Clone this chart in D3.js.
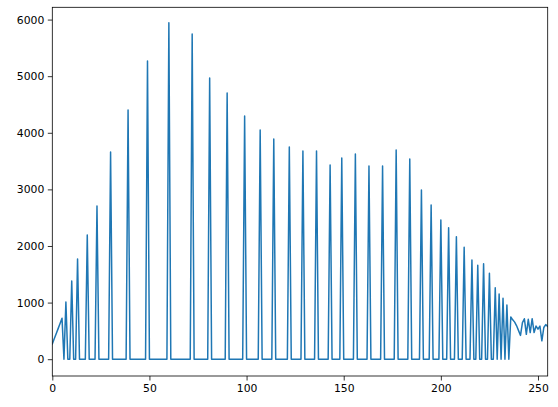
<!DOCTYPE html>
<html>
<head>
<meta charset="utf-8">
<script src="https://cdn.jsdelivr.net/npm/d3@7"></script>
<style>
  html, body { margin: 0; padding: 0; background: #fff; }
  svg { display: block; }
  .tick text { font-family: "DejaVu Sans", sans-serif; font-size: 10.8px; fill: #000; }
</style>
</head>
<body>
<svg id="chart" width="558" height="407"></svg>
<script>
// ---- data ----
// spike peaks: index -> count (all other indices in the spike region are 0)
const spikeIndex = [7, 10, 13, 18, 23, 30, 39, 49, 60, 72, 81, 90, 99, 107, 114, 122, 129, 136, 143, 149, 156, 163, 170, 177, 184, 190, 195, 200, 204, 208, 212, 216, 219, 222, 225, 228, 230, 232, 234];
const spikeValue = [1010, 1382, 1770, 2194, 2707, 3661, 4403, 5268, 5945, 5746, 4968, 4703, 4297, 4049, 3890, 3749, 3678, 3678, 3431, 3555, 3625, 3413, 3413, 3696, 3537, 2989, 2724, 2459, 2323, 2164, 1977, 1753, 1659, 1687, 1518, 1263, 1152, 1076, 958];
// start ramp (indices 0..5)
const headValues = [270, 360, 450, 540, 630, 725];
// noisy tail (indices 236..255)
const tailValues = [745, 695, 655, 590, 505, 420, 645, 715, 440, 705, 470, 715, 470, 585, 530, 585, 325, 560, 610, 580];
const xTicks = [0, 50, 100, 150, 200, 250];
const yTicks = [0, 1000, 2000, 3000, 4000, 5000, 6000];

// build full 256-length series
const series = new Array(256).fill(0);
headValues.forEach((v, i) => { series[i] = v; });
spikeIndex.forEach((idx, i) => { series[idx] = spikeValue[i]; });
tailValues.forEach((v, i) => { series[236 + i] = v; });
const data = series.map((v, i) => ({ x: i, y: v }));

// ---- layout ----
const mLeft = 52.3, mRight = 547.7, mTop = 7.3, mBottom = 376;
const svg = d3.select("#chart");

const x = d3.scaleLinear().domain([0, 255]).range([mLeft, mRight]);
const y = d3.scaleLinear().domain([-297, 6217]).range([mBottom, mTop]);

// line
const line = d3.line().x(d => x(d.x)).y(d => y(d.y));
svg.append("defs").append("clipPath").attr("id", "clip")
  .append("rect").attr("x", mLeft).attr("y", mTop).attr("width", mRight - mLeft).attr("height", mBottom - mTop);

svg.append("path")
  .datum(data)
  .attr("clip-path", "url(#clip)")
  .attr("fill", "none")
  .attr("stroke", "#1f77b4")
  .attr("stroke-width", 1.5)
  .attr("stroke-linejoin", "round")
  .attr("stroke-linecap", "square")
  .attr("d", line);

// axes
const xAxis = d3.axisBottom(x).tickValues(xTicks).tickSize(4.5).tickPadding(3.5).tickFormat(d3.format("d"));
const yAxis = d3.axisLeft(y).tickValues(yTicks).tickSize(4.5).tickPadding(3.5).tickFormat(d3.format("d"));

const gx = svg.append("g").attr("transform", `translate(0,${mBottom})`).call(xAxis);
const gy = svg.append("g").attr("transform", `translate(${mLeft},0)`).call(yAxis);
[gx, gy].forEach(g => {
  g.select(".domain").remove();
  g.selectAll(".tick line").attr("stroke", "#000").attr("stroke-width", 0.8);
});

// frame
svg.append("rect")
  .attr("x", mLeft).attr("y", mTop)
  .attr("width", mRight - mLeft).attr("height", mBottom - mTop)
  .attr("fill", "none").attr("stroke", "#000").attr("stroke-width", 0.8);
</script>
</body>
</html>
